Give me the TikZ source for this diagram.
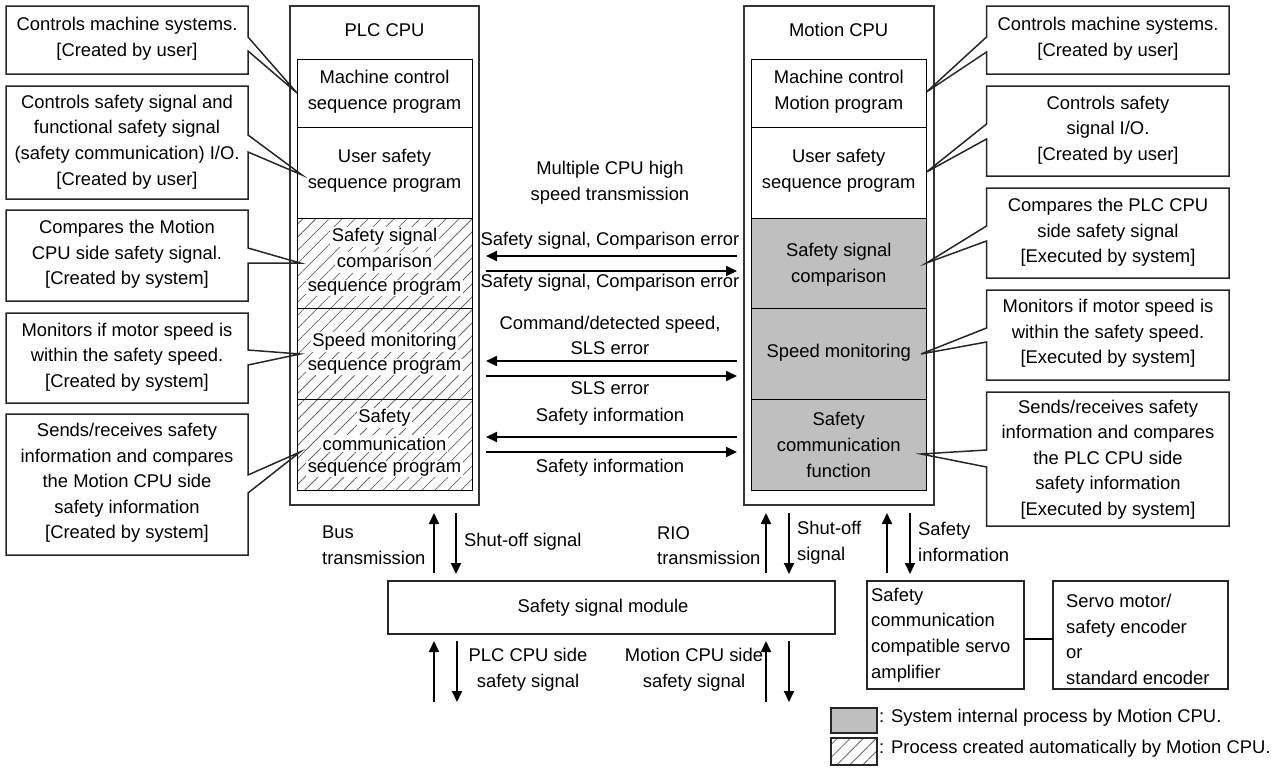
\documentclass[tikz,border=0pt]{standalone}
\usepackage{fontspec}
\setmainfont{Liberation Sans}
\usetikzlibrary{arrows.meta,patterns.meta}
\begin{document}
\tikzset{
 txt/.style={font=\fontsize{18.4}{25.6}\selectfont, align=center, inner sep=0pt},
 ltxt/.style={txt, align=left, anchor=west},
 callout/.style={draw=black!85, line width=1.5pt, line join=miter},
 cpubox/.style={draw=black!80, line width=2pt},
 blk/.style={draw=black, line width=1pt},
 arr/.style={line width=1.8pt, -{Triangle[length=11pt,width=10pt]}},
 hl/.style={txt, fill=white, inner sep=1.5pt},
 hatch/.style={pattern={Lines[angle=45,distance=9.2pt,line width=0.8pt]}, pattern color=black!60},
 grayblk/.style={fill=black!25},
 plainbox/.style={draw=black!85, line width=1.5pt}
}
\begin{tikzpicture}[x=1pt,y=-1pt]
\useasboundingbox (0,0) rectangle (1286,769);

% ---------------- PLC CPU ----------------
\draw[cpubox] (290,6) rectangle (479,505);
\node[txt] (plc) at (384.5,30) {PLC CPU};
\fill[hatch] (297,218) rectangle (472,490);
\draw[blk] (297,59) rectangle (472,490);
\draw[blk] (297,127) -- (472,127);
\draw[blk] (297,218) -- (472,218);
\draw[blk] (297,308) -- (472,308);
\draw[blk] (297,399) -- (472,399);
\node[txt] (p1) at (384.5,92) {Machine control\\sequence program};
\node[txt] (p2) at (384.5,171) {User safety\\sequence program};
\node[hl] (p3a) at (384.5,237) {Safety signal};
\node[hl] (p3b) at (384.5,262.5) {comparison};
\node[hl] (p3c) at (384.5,288) {sequence program};
\node[hl] (p4a) at (384.5,342) {Speed monitoring};
\node[hl] (p4b) at (384.5,367) {sequence program};
\node[hl] (p5a) at (384.5,418) {Safety};
\node[hl] (p5b) at (384.5,443.5) {communication};
\node[hl] (p5c) at (384.5,469) {sequence program};

% ---------------- Motion CPU ----------------
\draw[cpubox] (744,6) rectangle (934,505);
\node[txt] (mot) at (838.7,30) {Motion CPU};
\fill[grayblk] (751,218) rectangle (926.5,490);
\draw[blk] (751,59) rectangle (926.5,490);
\draw[blk] (751,127) -- (926.5,127);
\draw[blk] (751,218) -- (926.5,218);
\draw[blk] (751,308) -- (926.5,308);
\draw[blk] (751,399) -- (926.5,399);
\node[txt] (m1) at (838.7,92) {Machine control\\Motion program};
\node[txt] (m2) at (838.7,171) {User safety\\sequence program};
\node[txt] (m3) at (838.7,265) {Safety signal\\comparison};
\node[txt] (m4) at (838.7,353) {Speed monitoring};
\node[txt] (m5) at (838.7,445) {Safety\\communication\\function};

% ---------------- Left callouts ----------------
\draw[callout] (6,6) -- (248,6) -- (248,37) -- (297,93) -- (248,51) -- (248,74) -- (6,74) -- cycle;
\node[txt] (l1) at (127,38.5) {Controls machine systems.\\{[Created by user]}};
\draw[callout] (6,86) -- (248,86) -- (248,135) -- (302,175) -- (248,152) -- (248,199) -- (6,199) -- cycle;
\node[txt] (l2) at (127,142) {Controls safety signal and\\functional safety signal\\(safety communication) I/O.\\{[Created by user]}};
\draw[callout] (6,210) -- (248,210) -- (248,248) -- (300,263) -- (248,263) -- (248,301) -- (6,301) -- cycle;
\node[txt] (l3) at (127,254.5) {Compares the Motion\\CPU side safety signal.\\{[Created by system]}};
\draw[callout] (6,313) -- (248,313) -- (248,350) -- (300,354) -- (248,365) -- (248,403) -- (6,403) -- cycle;
\node[txt] (l4) at (127,357) {Monitors if motor speed is\\within the safety speed.\\{[Created by system]}};
\draw[callout] (6,414) -- (248,414) -- (248,475) -- (300,452) -- (248,493) -- (248,555) -- (6,555) -- cycle;
\node[txt] (l5) at (127,483) {Sends/receives safety\\information and compares\\the Motion CPU side\\safety information\\{[Created by system]}};

% ---------------- Right callouts ----------------
\draw[callout] (986.5,6) -- (1229,6) -- (1229,74) -- (986.5,74) -- (986.5,52) -- (926.5,92) -- (986.5,37) -- cycle;
\node[txt] (r1) at (1108,38.5) {Controls machine systems.\\{[Created by user]}};
\draw[callout] (986.5,86) -- (1229,86) -- (1229,176) -- (986.5,176) -- (986.5,139) -- (926.5,172) -- (986.5,124) -- cycle;
\node[txt] (r2) at (1108,130) {Controls safety\\signal I/O.\\{[Created by user]}};
\draw[callout] (986.5,188) -- (1229,188) -- (1229,278) -- (986.5,278) -- (986.5,241) -- (926.5,263) -- (986.5,226) -- cycle;
\node[txt] (r3) at (1108,232.5) {Compares the PLC CPU\\side safety signal\\{[Executed by system]}};
\draw[callout] (986.5,290) -- (1229,290) -- (1229,380) -- (986.5,380) -- (986.5,342) -- (921,354) -- (986.5,328) -- cycle;
\node[txt] (r4) at (1108,333.5) {Monitors if motor speed is\\within the safety speed.\\{[Executed by system]}};
\draw[callout] (986.5,392) -- (1229,392) -- (1229,526) -- (986.5,526) -- (986.5,467) -- (921,454) -- (986.5,450) -- cycle;
\node[txt] (r5) at (1108,459.5) {Sends/receives safety\\information and compares\\the PLC CPU side\\safety information\\{[Executed by system]}};

% ---------------- Middle transmission ----------------
\node[txt] (mcpu) at (610,182.5) {Multiple CPU high\\speed transmission};
\coordinate (aL1) at (486,256); \coordinate (aR1) at (737,256);
\coordinate (aL2) at (486,271); \coordinate (aR2) at (737,271);
\coordinate (aL3) at (486,361); \coordinate (aR3) at (737,361);
\coordinate (aL4) at (486,376); \coordinate (aR4) at (737,376);
\coordinate (aL5) at (486,437); \coordinate (aR5) at (737,437);
\coordinate (aL6) at (486,452); \coordinate (aR6) at (737,452);
\draw[arr] (aR1) -- (aL1);
\draw[arr] (aL2) -- (aR2);
\draw[arr] (aR3) -- (aL3);
\draw[arr] (aL4) -- (aR4);
\draw[arr] (aR5) -- (aL5);
\draw[arr] (aL6) -- (aR6);
\node[txt] (t1) at (610,241) {Safety signal, Comparison error};
\node[txt] (t2) at (610,283) {Safety signal, Comparison error};
\node[txt] (t3) at (610,335.5) {Command/detected speed,\\SLS error};
\node[txt] (t4) at (610,388) {SLS error};
\node[txt] (t5) at (610,417) {Safety information};
\node[txt] (t6) at (610,468) {Safety information};

% ---------------- Safety signal module ----------------
\draw[plainbox] (388,581) rectangle (835,634);
\node[txt] (ssm) at (603,607.5) {Safety signal module};

\coordinate (b1a) at (434,573); \coordinate (b1b) at (434,513);
\coordinate (b2a) at (456,513); \coordinate (b2b) at (456,574);
\coordinate (b3a) at (766,573); \coordinate (b3b) at (766,513);
\coordinate (b4a) at (789,513); \coordinate (b4b) at (789,574);
\coordinate (b5a) at (887,573); \coordinate (b5b) at (887,513);
\coordinate (b6a) at (910,513); \coordinate (b6b) at (910,574);
\draw[arr] (b1a) -- (b1b);
\draw[arr] (b2a) -- (b2b);
\draw[arr] (b3a) -- (b3b);
\draw[arr] (b4a) -- (b4b);
\draw[arr] (b5a) -- (b5b);
\draw[arr] (b6a) -- (b6b);
\node[ltxt] (bus) at (322,545.5) {Bus\\transmission};
\node[ltxt] (sh1) at (464,542) {Shut-off signal};
\node[ltxt] (rio) at (657,545.5) {RIO\\transmission};
\node[ltxt] (sh2) at (797,542.5) {Shut-off\\signal};
\node[ltxt] (sinf) at (918,542) {Safety\\information};

\coordinate (c1a) at (434,702); \coordinate (c1b) at (434,641);
\coordinate (c2a) at (457,641); \coordinate (c2b) at (457,702);
\coordinate (c3a) at (766,702); \coordinate (c3b) at (766,641);
\coordinate (c4a) at (789,641); \coordinate (c4b) at (789,702);
\draw[arr] (c1a) -- (c1b);
\draw[arr] (c2a) -- (c2b);
\draw[arr] (c3a) -- (c3b);
\draw[arr] (c4a) -- (c4b);
\node[txt] (plcs) at (528,670) {PLC CPU side\\safety signal};
\node[txt] (mots) at (694,670) {Motion CPU side\\safety signal};

% ---------------- Servo ----------------
\draw[plainbox] (867,581) rectangle (1024,689);
\node[ltxt] (amp) at (871,635) {Safety\\communication\\compatible servo\\amplifier};
\draw[plainbox] (1053,581) rectangle (1228,689);
\node[ltxt] (srv) at (1066,639.5) {Servo motor/\\safety encoder\\or\\standard encoder};
\coordinate (ampR) at (1024,639); \coordinate (srvL) at (1053,639);
\draw[line width=1.5pt] (ampR) -- (srvL);

% ---------------- Legend ----------------
\draw[grayblk, draw=black!85, line width=1.5pt] (831,708) rectangle (877,733);
\fill[hatch] (831,738) rectangle (877,765);
\draw[draw=black!85, line width=1.5pt] (831,738) rectangle (877,765);
\node[ltxt] (lg1) at (879,718) {: System internal process by Motion CPU.};
\node[ltxt] (lg2) at (879,749) {: Process created automatically by Motion CPU.};
\end{tikzpicture}
\end{document}
